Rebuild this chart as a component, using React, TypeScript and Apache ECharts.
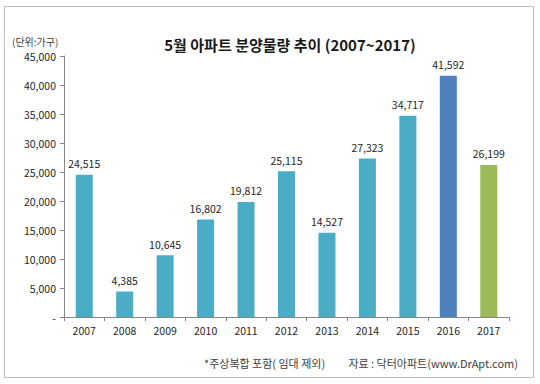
import React, { useEffect, useRef } from "react";
import * as echarts from "echarts";

const years = ["2007", "2008", "2009", "2010", "2011", "2012", "2013", "2014", "2015", "2016", "2017"];
const supply = [24515, 4385, 10645, 16802, 19812, 25115, 14527, 27323, 34717, 41592, 26199];
const barColors = ["#4BACC6", "#4BACC6", "#4BACC6", "#4BACC6", "#4BACC6", "#4BACC6", "#4BACC6", "#4BACC6", "#4BACC6", "#4F81BD", "#9BBB59"];
const titleText = "5월 아파트 분양물량 추이 (2007~2017)";
const unitText = "(단위:가구)";
const noteText = "*주상복합 포함( 임대 제외)";
const sourceText = "자료 : 닥터아파트(www.DrApt.com)";

const FONT = "'Noto Sans CJK KR', 'Noto Sans', sans-serif";

export default function App() {
  const ref = useRef<HTMLDivElement>(null);
  useEffect(() => {
    const chart = echarts.init(ref.current!, null, { renderer: "svg" });
    chart.setOption({
      animation: false,
      backgroundColor: "#ffffff",
      textStyle: { fontFamily: FONT },
      title: {
        text: titleText,
        left: 285,
        top: 32,
        textAlign: "center",
        textStyle: { fontSize: 15, fontWeight: "bold", color: "#1a1a1a", fontFamily: FONT },
      },
      graphic: [
        {
          type: "rect",
          shape: { x: 4.5, y: 6.5, width: 529, height: 371 },
          style: { fill: "none", stroke: "#bfbfbf", lineWidth: 1 },
          silent: true,
        },
        {
          type: "text",
          x: 12,
          y: 36,
          style: { text: unitText, fontSize: 10, fill: "#404040", fontFamily: FONT },
        },
        {
          type: "text",
          x: 204,
          y: 357,
          style: { text: noteText, fontSize: 11, fill: "#404040", fontFamily: FONT },
        },
        {
          type: "text",
          x: 518,
          y: 357,
          style: { text: sourceText, fontSize: 11, fill: "#404040", fontFamily: FONT, align: "right" },
        },
      ],
      grid: { left: 64, right: 31, top: 56, bottom: 67, containLabel: false },
      xAxis: {
        type: "category",
        data: years,
        axisLine: { lineStyle: { color: "#868686", width: 1 } },
        axisTick: { show: true, length: 4, lineStyle: { color: "#868686" } },
        axisLabel: { color: "#262626", fontSize: 10.5, margin: 8, fontFamily: FONT },
      },
      yAxis: {
        type: "value",
        min: 0,
        max: 45000,
        interval: 5000,
        splitLine: { show: false },
        axisLine: { show: true, lineStyle: { color: "#868686", width: 1 } },
        axisTick: { show: true, length: 4, lineStyle: { color: "#868686" } },
        axisLabel: {
          color: "#262626",
          fontSize: 10.5,
          margin: 8,
          fontFamily: FONT,
          formatter: (v: number) => (v === 0 ? "-" : v.toLocaleString("en-US")),
        },
      },
      series: [
        {
          type: "bar",
          barWidth: 17,
          data: supply.map((v, i) => ({ value: v, itemStyle: { color: barColors[i] } })),
          label: {
            show: true,
            position: "top",
            distance: 6,
            color: "#262626",
            fontSize: 10.5,
            fontFamily: FONT,
            formatter: (p: any) => Number(p.value).toLocaleString("en-US"),
          },
        },
      ],
    });
    return () => chart.dispose();
  }, []);
  return (
    <div
      ref={ref}
      style={{ position: "fixed", left: 0, top: 0, width: 540, height: 384 }}
    />
  );
}
